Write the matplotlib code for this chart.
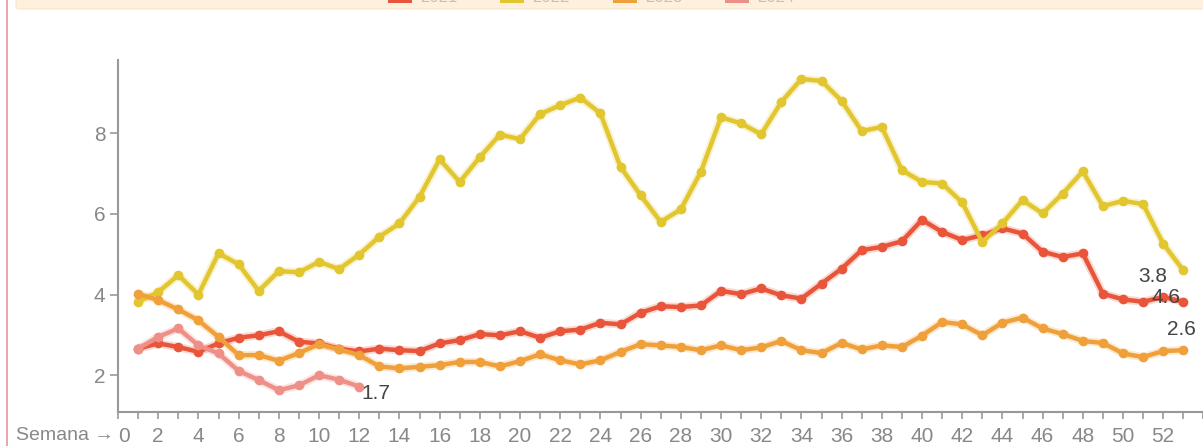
import matplotlib.pyplot as plt
from matplotlib.patches import Rectangle, FancyBboxPatch
from matplotlib.ticker import MultipleLocator

plt.rcParams['font.family'] = ['Liberation Sans', 'DejaVu Sans']

# weekly values, 4 seasons
weeks = list(range(1, 54))
labels = ["2021", "2022", "2023", "2024"]
colors = ["#e8553a", "#e2c630", "#f0a03a", "#ef9088"]

red = [2.66, 2.79, 2.70, 2.58, 2.79, 2.93, 2.99, 3.09, 2.83, 2.79,
       2.66, 2.59, 2.66, 2.62, 2.60, 2.79, 2.87, 3.02, 2.99, 3.09,
       2.93, 3.09, 3.13, 3.30, 3.26, 3.55, 3.71, 3.69, 3.73, 4.09,
       4.01, 4.15, 3.98, 3.90, 4.27, 4.64, 5.10, 5.18, 5.32, 5.85,
       5.55, 5.35, 5.47, 5.64, 5.51, 5.06, 4.93, 5.02, 4.02, 3.88,
       3.82, 3.94, 3.82]
yellow = [3.82, 4.06, 4.48, 4.00, 5.02, 4.75, 4.09, 4.58, 4.55, 4.81,
          4.63, 4.99, 5.43, 5.76, 6.42, 7.35, 6.79, 7.40, 7.96, 7.85,
          8.47, 8.69, 8.88, 8.49, 7.16, 6.46, 5.80, 6.11, 7.04, 8.39,
          8.24, 7.97, 8.77, 9.34, 9.29, 8.80, 8.05, 8.15, 7.08, 6.79,
          6.75, 6.28, 5.30, 5.76, 6.34, 6.01, 6.50, 7.05, 6.19, 6.32,
          6.24, 5.26, 4.60]
orange = [4.02, 3.86, 3.63, 3.36, 2.95, 2.50, 2.50, 2.36, 2.55, 2.77,
          2.64, 2.50, 2.22, 2.17, 2.21, 2.25, 2.33, 2.33, 2.22, 2.35,
          2.52, 2.37, 2.27, 2.37, 2.58, 2.77, 2.74, 2.70, 2.62, 2.74,
          2.62, 2.69, 2.85, 2.62, 2.55, 2.80, 2.64, 2.74, 2.70, 2.98,
          3.32, 3.26, 2.99, 3.30, 3.43, 3.16, 3.02, 2.85, 2.80, 2.54,
          2.45, 2.60, 2.62]
pink = [2.66, 2.95, 3.16, 2.74, 2.54, 2.11, 1.88, 1.63, 1.75, 2.00,
        1.89, 1.72]

series = [red, yellow, orange, pink]
# end label offsets in pixels (labels are nudged apart like the original)
label_offsets = [(-45, 25), (-32, -27), (-16, 21), (2, -7)]

W, H = 1203, 446
fig = plt.figure(figsize=(W / 100, H / 100), dpi=100)

# frame bits: pink border on the left and the clipped legend band on top
fig.add_artist(Rectangle((6 / W, 0), 2 / W, 1, transform=fig.transFigure,
                         color="#eaa8a8", lw=0))
fig.add_artist(FancyBboxPatch((16 / W, 1 - 9 / H), 1.1, 20 / H,
                              boxstyle="round,pad=0,rounding_size=0.004",
                              transform=fig.transFigure, fc="#fdf0dc", ec="#f8e6cc", lw=0.8))
legend_x = [388, 500, 613, 725]
for lx, c, lab in zip(legend_x, colors, labels):
    fig.add_artist(Rectangle((lx / W, 1 - 3 / H), 24 / W, 8 / H,
                             transform=fig.transFigure, color=c, lw=0))
    fig.text((lx + 32) / W, 1 - 2 / H, lab, fontsize=12, color="#c8c0b8",
             va="baseline", ha="left")

ax = fig.add_axes([118 / W, 34 / H, 1085.4 / W, 352 / H])

for vals, c in zip(series, colors):
    x = weeks[:len(vals)]
    ax.plot(x, vals, color=c, lw=6, alpha=0.22, solid_capstyle="round", zorder=2)
    ax.plot(x, vals, color=c, lw=3.2, marker="o", ms=7, mec=c, mew=0, zorder=3)

for vals, off in zip(series, label_offsets):
    ax.annotate(f"{vals[-1]:.1f}", (len(vals), vals[-1]), xytext=off,
                textcoords="offset pixels", ha="left", va="center",
                fontsize=15, color="#444444", zorder=5)

ax.set_xlim(0, 54)
ax.set_ylim(1.09, 9.81)
ax.set_yticks([2, 4, 6, 8])
ax.xaxis.set_major_locator(MultipleLocator(2))
ax.xaxis.set_minor_locator(MultipleLocator(1))
ax.set_xticks(range(0, 53, 2))

for s in ["top", "right"]:
    ax.spines[s].set_visible(False)
for s in ["left", "bottom"]:
    ax.spines[s].set_color("#999999")
    ax.spines[s].set_linewidth(1.5)

ax.tick_params(axis="y", length=6, width=1.2, color="#999999",
               labelsize=15, labelcolor="#888888", pad=3)
ax.tick_params(axis="x", which="both", length=5, width=1.2, color="#999999",
               labelsize=15, labelcolor="#888888", pad=6)
ax.get_xticklabels()[0].set_ha("left")

fig.text(114 / W, 10 / H, "Semana \u2192", ha="right", va="center",
         fontsize=14, color="#888888")

fig.savefig("out.png", dpi=100)
